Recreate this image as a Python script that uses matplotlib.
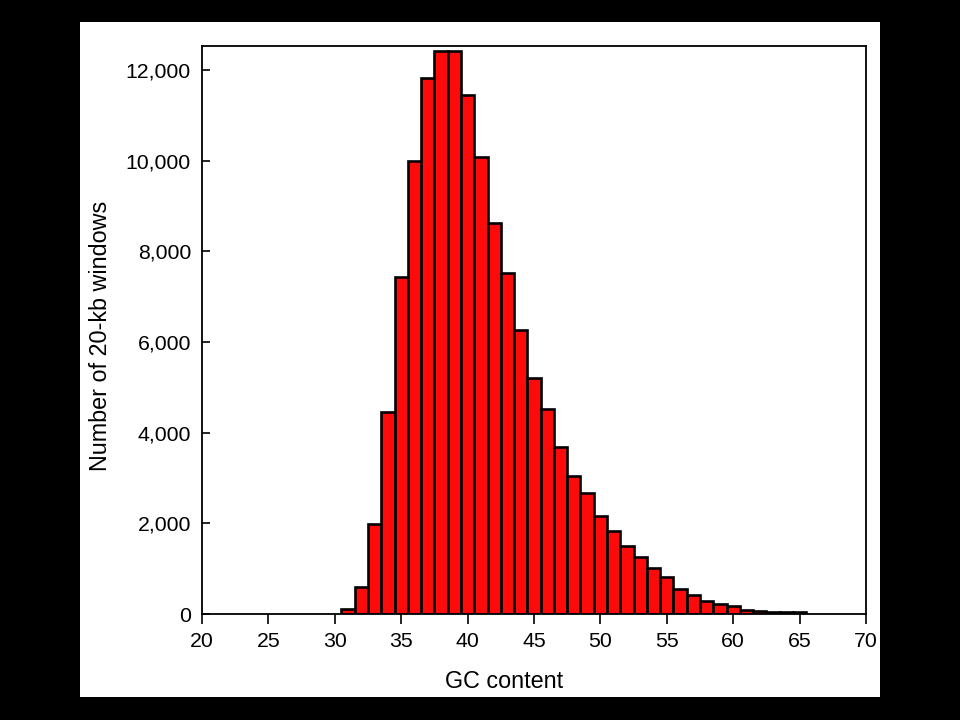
import matplotlib
matplotlib.use("Agg")
import matplotlib.pyplot as plt
from matplotlib.patches import Rectangle
from matplotlib.ticker import FuncFormatter

# GC content bins (centres, 1% wide) and window counts
gc_bins = [31, 32, 33, 34, 35, 36, 37, 38, 39, 40, 41, 42, 43, 44, 45, 46, 47, 48,
           49, 50, 51, 52, 53, 54, 55, 56, 57, 58, 59, 60, 61, 62, 63, 64, 65]
counts = [100, 600, 1980, 4450, 7430, 10000, 11820, 12410, 12410, 11450, 10090, 8630,
          7520, 6270, 5210, 4530, 3690, 3050, 2660, 2170, 1820, 1490, 1250, 1010,
          810, 560, 410, 290, 225, 170, 95, 60, 55, 40, 35]

x_ticks = [20, 25, 30, 35, 40, 45, 50, 55, 60, 65, 70]
y_ticks = [0, 2000, 4000, 6000, 8000, 10000, 12000]

plt.rcParams["font.family"] = ["Liberation Sans", "DejaVu Sans"]

fig = plt.figure(figsize=(9.6, 7.2), dpi=100, facecolor="black")
# white panel behind the plot
fig.patches.append(Rectangle((80 / 960, 23 / 720), 800 / 960, 675 / 720,
                             transform=fig.transFigure, facecolor="white",
                             edgecolor="none", zorder=-10))

ax = fig.add_axes([202 / 960, 106 / 720, 664 / 960, 568 / 720])
ax.set_zorder(1)
ax.bar(gc_bins, counts, width=1.0, color="#ff0a0a", edgecolor="black", linewidth=1.9)

ax.set_xlim(20, 70)
ax.set_ylim(0, 12530)
ax.set_xticks(x_ticks)
ax.set_yticks(y_ticks)
ax.yaxis.set_major_formatter(FuncFormatter(lambda v, _: f"{int(v):,}"))
ax.tick_params(axis="x", direction="out", length=7, width=1.2, labelsize=15.3, pad=6)
ax.tick_params(axis="y", direction="in", length=6, width=1.2, labelsize=15.3, pad=8)
for s in ax.spines.values():
    s.set_linewidth(1.3)

ax.set_xlabel("GC content", fontsize=16.8)
ax.set_ylabel("Number of 20-kb windows", fontsize=16.8)
ax.xaxis.set_label_coords(0.455, -0.099)
ax.yaxis.set_label_coords(-0.136, 0.49)

fig.savefig("out.png", dpi=100, facecolor=fig.get_facecolor())
plt.close(fig)
